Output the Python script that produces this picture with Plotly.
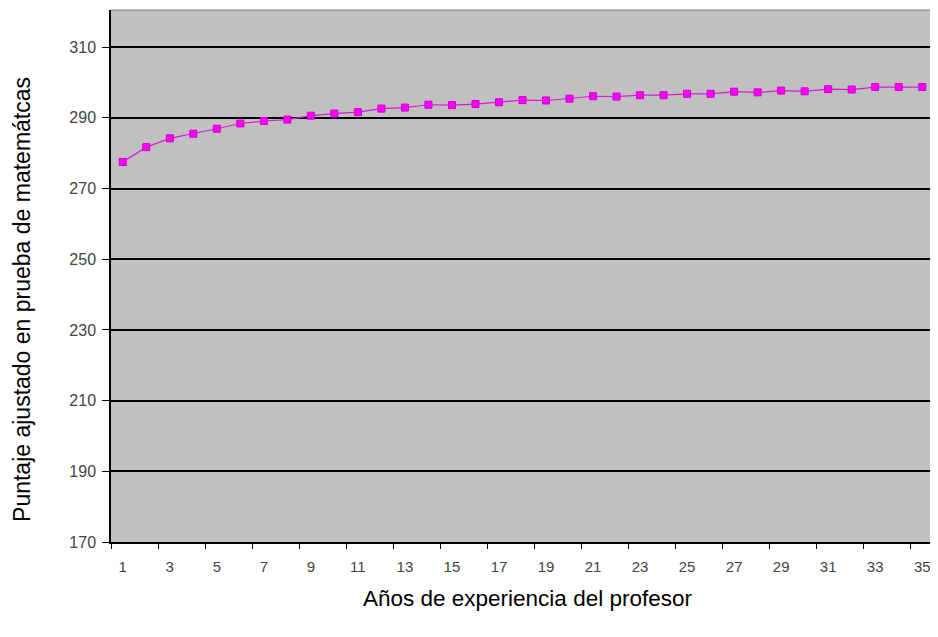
import plotly.graph_objects as go

years = list(range(1, 36))
scores = [277.5, 281.7, 284.2, 285.5, 286.9, 288.4, 289.1, 289.5, 290.6, 291.2,
          291.6, 292.6, 292.9, 293.7, 293.6, 293.9, 294.4, 295.0, 294.9, 295.4,
          296.1, 296.0, 296.4, 296.4, 296.8, 296.8, 297.4, 297.2, 297.7, 297.5,
          298.1, 298.0, 298.7, 298.7, 298.7]
x_ticks = list(range(1, 36, 2))
y_ticks = [170, 190, 210, 230, 250, 270, 290, 310]

fig = go.Figure()
fig.add_trace(go.Scatter(
    x=years, y=scores, mode="lines+markers",
    line=dict(color="#D81BD8", width=1.2),
    marker=dict(symbol="square", size=7, color="#FF00FF",
                line=dict(color="#CC00CC", width=1)),
    showlegend=False,
))

fig.update_layout(
    width=930, height=629,
    margin=dict(l=103, r=4, t=2, b=95),
    paper_bgcolor="white",
    plot_bgcolor="#C0C0C0",
    font=dict(family="Liberation Sans Narrow, Liberation Sans, Arial, sans-serif", color="#333333"),
    xaxis=dict(
        range=[0.5, 35.5], tickvals=x_ticks, ticktext=[str(v) for v in x_ticks],
        ticks="", showgrid=False, zeroline=False,
        showline=True, linecolor="black", linewidth=1.5,
        tickfont=dict(size=15, color="#444444"),
        ticklabelstandoff=10,
        minor=dict(tick0=0.5, dtick=2, ticks="outside", ticklen=5,
                   tickcolor="black", showgrid=False),
    ),
    yaxis=dict(
        range=[170, 320.5], tickvals=y_ticks,
        ticks="outside", ticklen=7, tickcolor="black",
        showgrid=True, gridcolor="black", gridwidth=1.5,
        zeroline=False, showline=True, linecolor="black", linewidth=1.5,
        tickfont=dict(size=16, color="#444444"),
        ticklabelstandoff=3,
    ),
    annotations=[
        dict(text="Puntaje ajustado en prueba de matemátcas", xref="paper", yref="paper",
             x=0, y=0.455, xshift=-89, textangle=-90, showarrow=False,
             xanchor="center", yanchor="middle",
             font=dict(family="Liberation Sans, Arial, sans-serif", size=23, color="black")),
        dict(text="Años de experiencia del profesor", xref="paper", yref="paper",
             x=0.5055, y=0, yshift=-56, showarrow=False,
             xanchor="center", yanchor="middle",
             font=dict(family="Liberation Sans, Arial, sans-serif", size=22.5, color="black")),
    ],
)
fig.add_shape(type="line", xref="paper", yref="paper", x0=0, x1=1, y0=1, y1=1,
              line=dict(color="#808080", width=1))

fig.write_html("out.html")
